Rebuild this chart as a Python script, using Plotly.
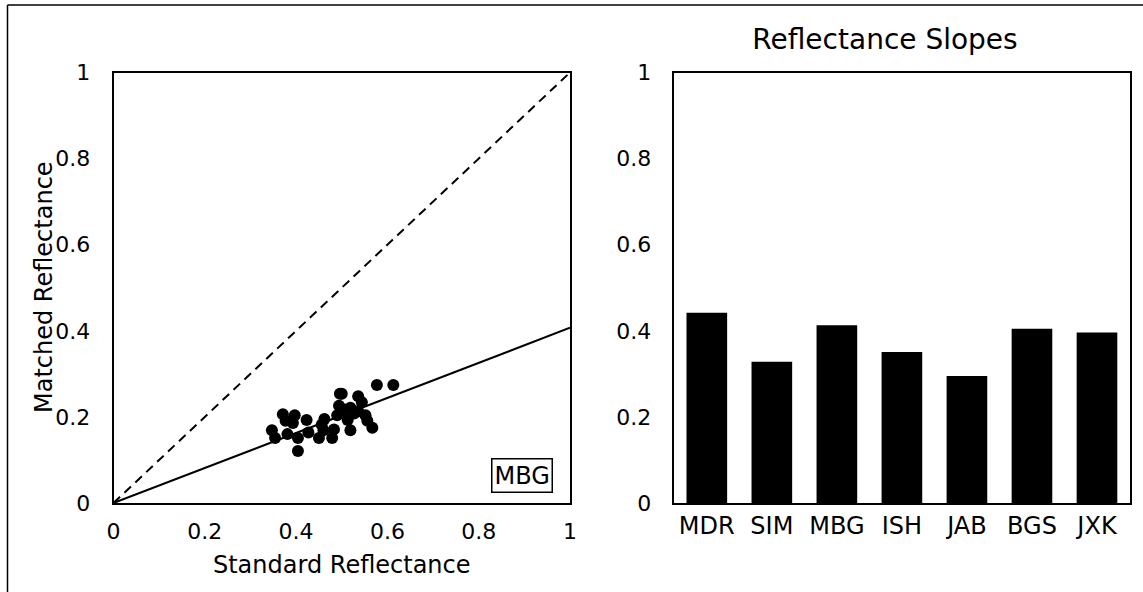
import plotly.graph_objects as go

# ---- data ----
std_refl = [0.347, 0.354, 0.371, 0.377, 0.381, 0.397, 0.393, 0.404, 0.404, 0.423,
            0.427, 0.450, 0.456, 0.462, 0.460, 0.479, 0.483, 0.490, 0.496, 0.494,
            0.506, 0.513, 0.519, 0.519, 0.527, 0.536, 0.544, 0.552, 0.556, 0.567,
            0.577, 0.613, 0.536, 0.500]
matched_refl = [0.169, 0.151, 0.206, 0.191, 0.160, 0.204, 0.186, 0.151, 0.121, 0.193,
                0.164, 0.151, 0.182, 0.195, 0.169, 0.151, 0.171, 0.204, 0.254, 0.226,
                0.217, 0.193, 0.169, 0.221, 0.208, 0.248, 0.234, 0.204, 0.191, 0.175,
                0.274, 0.274, 0.213, 0.254]
identity_x = [0, 1]
identity_y = [0, 1]
fit_slope = 0.407
fit_x = [0, 1]
fit_y = [0, fit_slope]

observers = ["MDR", "SIM", "MBG", "ISH", "JAB", "BGS", "JXK"]
slopes = [0.442, 0.328, 0.413, 0.351, 0.295, 0.405, 0.396]

tick_vals = [0, 0.2, 0.4, 0.6, 0.8, 1]
tick_text = ["0", "0.2", "0.4", "0.6", "0.8", "1"]

FONT = "DejaVu Sans"
W, H = 1143, 592

fig = go.Figure()

fig.add_trace(go.Scatter(x=identity_x, y=identity_y, mode="lines",
                         line=dict(color="black", width=2, dash="9px,6px"),
                         xaxis="x", yaxis="y", showlegend=False, hoverinfo="skip"))
fig.add_trace(go.Scatter(x=fit_x, y=fit_y, mode="lines",
                         line=dict(color="black", width=2),
                         xaxis="x", yaxis="y", showlegend=False, hoverinfo="skip"))
fig.add_trace(go.Scatter(x=std_refl, y=matched_refl, mode="markers",
                         marker=dict(color="black", size=12, line=dict(width=0)),
                         xaxis="x", yaxis="y", showlegend=False))

fig.add_trace(go.Bar(x=observers, y=slopes, marker=dict(color="black", line=dict(width=0)),
                     xaxis="x2", yaxis="y2", showlegend=False))

ax_common = dict(showgrid=False, zeroline=False, showline=True, linecolor="black",
                 linewidth=1.5, mirror=True, ticks="", automargin=False,
                 tickfont=dict(family=FONT, size=22, color="black"))

y_dom = [1 - 503 / H, 1 - 72.5 / H]

fig.update_layout(
    width=W, height=H,
    margin=dict(l=0, r=0, t=0, b=0),
    paper_bgcolor="white", plot_bgcolor="white",
    font=dict(family=FONT, color="black"),
    bargap=0.375,
    xaxis=dict(domain=[113.5 / W, 570 / W], range=[0, 1], tickvals=tick_vals,
               ticktext=tick_text, ticklabelstandoff=8,
               title=dict(text="Standard Reflectance", font=dict(family=FONT, size=24),
                          standoff=13),
               anchor="y", **ax_common),
    yaxis=dict(domain=y_dom, range=[0, 1], tickvals=tick_vals, ticktext=tick_text,
               ticklabelstandoff=17, anchor="x", **ax_common),
    xaxis2=dict(domain=[674.3 / W, 1129.5 / W], range=[-0.5, 6.5],
                ticklabelstandoff=0, anchor="y2",
                **{**ax_common, "tickfont": dict(family=FONT, size=24, color="black")}),
    yaxis2=dict(domain=y_dom, range=[0, 1], tickvals=tick_vals, ticktext=tick_text,
                ticklabelstandoff=17, anchor="x2", **ax_common),
    title=dict(text="Reflectance Slopes", font=dict(family=FONT, size=28, color="black"),
               x=885 / W, xanchor="center", xref="paper",
               y=1 - 39 / H, yanchor="middle", yref="container"),
    annotations=[
        dict(text="MBG", xref="x", yref="y", x=0.895, y=0.063,
             xanchor="center", yanchor="middle", showarrow=False,
             font=dict(family=FONT, size=24, color="black"),
             bordercolor="black", borderwidth=1.5, borderpad=2,
             bgcolor="white"),
        dict(text="Matched Reflectance", xref="paper", yref="paper",
             x=44 / W, y=1 - 287 / H, xanchor="center", yanchor="middle",
             textangle=-90, showarrow=False,
             font=dict(family=FONT, size=24, color="black")),
    ],
    shapes=[
        dict(type="line", xref="paper", yref="paper", x0=7.5 / W, x1=1, y0=1 - 5 / H, y1=1 - 5 / H,
             line=dict(color="black", width=1.5)),
        dict(type="line", xref="paper", yref="paper", x0=7.5 / W, x1=7.5 / W, y0=0, y1=1 - 5 / H,
             line=dict(color="black", width=1.5)),
    ],
)

fig.write_html("out.html", config={"displayModeBar": False},
               post_script="document.body.style.margin='0';document.body.style.overflow='hidden';")
